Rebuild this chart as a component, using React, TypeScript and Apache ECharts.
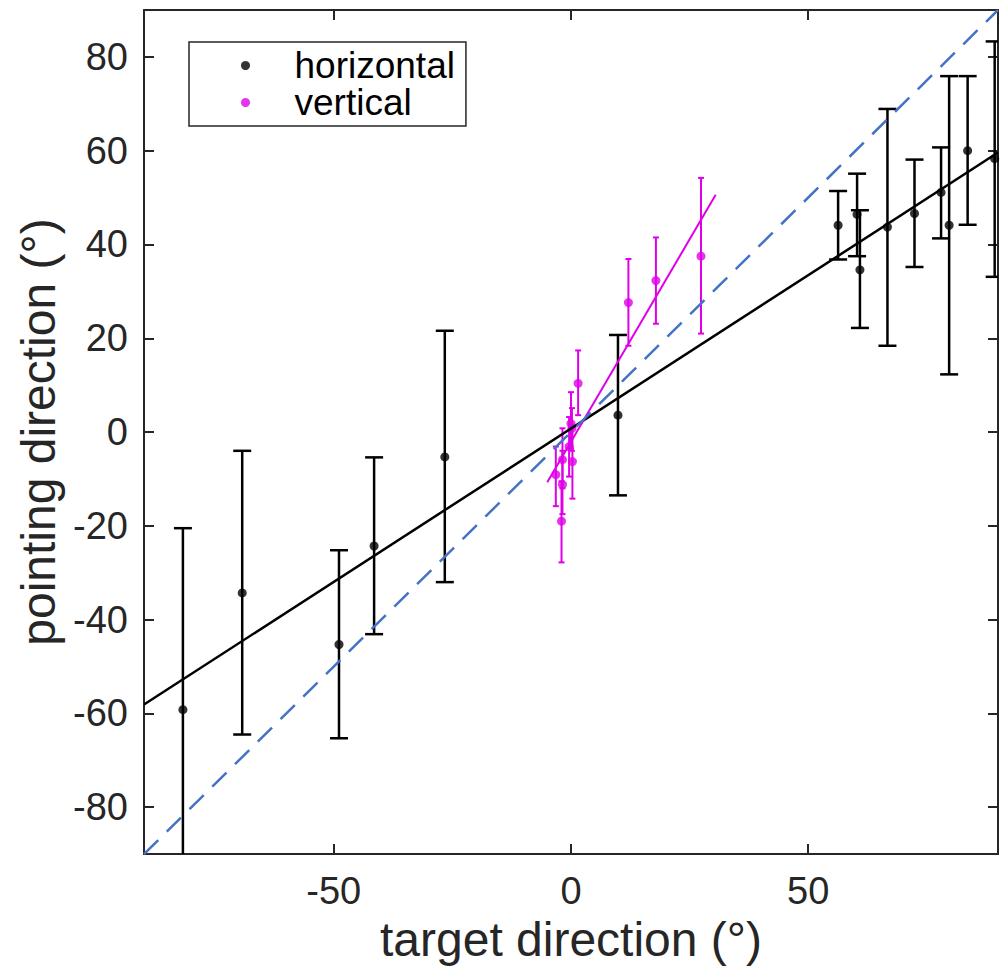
import React, { useEffect, useRef } from "react";
import * as echarts from "echarts";

// horizontal condition: target x, mean pointing y, error bar low / high
const H_X = [-81.8, -69.3, -48.9, -41.5, -26.6, 9.9, 56.3, 60.3, 60.9, 66.7, 72.4, 78.0, 79.7, 83.6, 89.3];
const H_Y = [-59.2, -34.3, -45.3, -24.3, -5.3, 3.6, 44.1, 46.4, 34.6, 43.7, 46.6, 51.1, 44.1, 60.0, 58.3];
const H_LO = [-100, -64.5, -65.3, -43.1, -32.0, -13.5, 36.8, 37.5, 22.2, 18.4, 35.2, 41.3, 12.3, 44.2, 33.1];
const H_HI = [-20.5, -4.0, -25.2, -5.4, 21.6, 20.7, 51.4, 55.1, 47.3, 68.9, 58.1, 60.7, 75.9, 75.9, 83.3];

// vertical condition
const V_X = [-3.2, -2.0, -1.8, -1.8, -0.4, 0.0, 0.3, 0.2, 1.5, 12.1, 17.9, 27.4];
const V_Y = [-9.1, -19.0, -11.2, -5.9, -3.1, 1.8, -6.3, 0.8, 10.4, 27.6, 32.3, 37.5];
const V_LO = [-15.8, -27.8, -17.5, -12.0, -9.5, -3.5, -14.2, -4.0, 3.6, 18.4, 23.1, 21.0];
const V_HI = [-3.1, -10.5, -4.0, 0.8, 3.2, 8.5, 1.0, 5.1, 17.4, 36.9, 41.5, 54.2];

// fit lines and identity line (end points)
const H_FIT_X = [-90, 90];
const H_FIT_Y = [-58.1, 59.6];
const V_FIT_X = [-5.0, 30.5];
const V_FIT_Y = [-10.7, 50.6];
const ID_X = [-90, 90];
const ID_Y = [-90, 90];

const X_TICKS = [-50, 0, 50];
const Y_TICKS = [-80, -60, -40, -20, 0, 20, 40, 60, 80];

const BLACK = "#000000";
const MAGENTA = "#e000e8";
const BLUE = "#4472c4";
const AXIS = "#262626";
const FONT = "'Liberation Sans', Arial, Helvetica, sans-serif";

const zip2 = (a: number[], b: number[]) => a.map((v, i) => [v, b[i]]);
const zip3 = (a: number[], b: number[], c: number[]) => a.map((v, i) => [v, b[i], c[i]]);

const errRender = (capHalf: number, color: string, width: number) => (params: any, api: any) => {
  const x = api.value(0);
  const lo = api.value(1);
  const hi = api.value(2);
  const pLo = api.coord([x, lo]);
  const pHi = api.coord([x, hi]);
  const style = { stroke: color, lineWidth: width, fill: "none" };
  return {
    type: "group",
    children: [
      { type: "line", shape: { x1: pLo[0], y1: pLo[1], x2: pHi[0], y2: pHi[1] }, style },
      { type: "line", shape: { x1: pLo[0] - capHalf, y1: pLo[1], x2: pLo[0] + capHalf, y2: pLo[1] }, style },
      { type: "line", shape: { x1: pHi[0] - capHalf, y1: pHi[1], x2: pHi[0] + capHalf, y2: pHi[1] }, style },
    ],
  };
};

export default function App() {
  const ref = useRef<HTMLDivElement>(null);
  useEffect(() => {
    if (!ref.current) return;
    const chart = echarts.init(ref.current, undefined, { renderer: "svg" });
    const axisCommon = {
      type: "value",
      min: -90,
      max: 90,
      splitLine: { show: false },
      axisLine: { show: true, onZero: false, lineStyle: { color: AXIS, width: 2 } },
    };
    chart.setOption({
      animation: false,
      backgroundColor: "#ffffff",
      grid: { left: 144, right: 7, top: 10, bottom: 106, containLabel: false },
      legend: {
        data: ["horizontal", "vertical"],
        orient: "vertical",
        left: 189,
        top: 42,
        icon: "circle",
        itemWidth: 88,
        itemHeight: 9,
        itemGap: 0,
        padding: [5, 11, 5, 52],
        borderColor: AXIS,
        borderWidth: 1.5,
        backgroundColor: "#ffffff",
        selectedMode: false,
        textStyle: { fontFamily: FONT, fontSize: 37, color: "#000", lineHeight: 37 },
      },
      xAxis: [
        {
          ...axisCommon,
          position: "bottom",
          name: "target direction (°)",
          nameLocation: "middle",
          nameGap: 55,
          nameTextStyle: { fontFamily: FONT, fontSize: 48, color: AXIS },
          axisTick: { show: true, inside: true, length: 10, lineStyle: { color: AXIS, width: 2 }, customValues: X_TICKS },
          axisLabel: { show: true, margin: 18, fontFamily: FONT, fontSize: 38, color: AXIS, customValues: X_TICKS },
        },
        {
          ...axisCommon,
          position: "top",
          axisTick: { show: true, inside: true, length: 10, lineStyle: { color: AXIS, width: 2 }, customValues: X_TICKS },
          axisLabel: { show: false },
        },
      ],
      yAxis: [
        {
          ...axisCommon,
          position: "left",
          name: "pointing direction (°)",
          nameLocation: "middle",
          nameGap: 80,
          nameRotate: 90,
          nameTextStyle: { fontFamily: FONT, fontSize: 48, color: AXIS },
          axisTick: { show: true, inside: true, length: 10, lineStyle: { color: AXIS, width: 2 }, customValues: Y_TICKS },
          axisLabel: { show: true, margin: 16, fontFamily: FONT, fontSize: 38, color: AXIS, customValues: Y_TICKS },
        },
        {
          ...axisCommon,
          position: "right",
          axisTick: { show: true, inside: true, length: 10, lineStyle: { color: AXIS, width: 2 }, customValues: Y_TICKS },
          axisLabel: { show: false },
        },
      ],
      series: [
        {
          type: "custom",
          name: "hErr",
          clip: true,
          renderItem: errRender(9, BLACK, 2.5),
          encode: { x: 0, y: [1, 2] },
          data: zip3(H_X, H_LO, H_HI),
          z: 2,
        },
        {
          type: "custom",
          name: "vErr",
          clip: true,
          renderItem: errRender(3, MAGENTA, 2),
          encode: { x: 0, y: [1, 2] },
          data: zip3(V_X, V_LO, V_HI),
          z: 2,
        },
        {
          type: "scatter",
          name: "horizontal",
          symbol: "circle",
          symbolSize: 9,
          itemStyle: { color: BLACK },
          data: zip2(H_X, H_Y),
          z: 3,
        },
        {
          type: "scatter",
          name: "vertical",
          symbol: "circle",
          symbolSize: 9,
          itemStyle: { color: MAGENTA },
          data: zip2(V_X, V_Y),
          z: 3,
        },
        {
          type: "line",
          name: "hFit",
          showSymbol: false,
          symbol: "none",
          lineStyle: { color: BLACK, width: 2.5 },
          data: zip2(H_FIT_X, H_FIT_Y),
          z: 4,
        },
        {
          type: "line",
          name: "vFit",
          showSymbol: false,
          symbol: "none",
          lineStyle: { color: MAGENTA, width: 2 },
          data: zip2(V_FIT_X, V_FIT_Y),
          z: 4,
        },
        {
          type: "line",
          name: "identity",
          showSymbol: false,
          symbol: "none",
          lineStyle: { color: BLUE, width: 2.5, type: [20, 12] },
          data: zip2(ID_X, ID_Y),
          z: 5,
        },
      ],
    });
    return () => chart.dispose();
  }, []);
  return (
    <div
      ref={ref}
      style={{ position: "fixed", left: 0, top: 0, width: 1005, height: 968, background: "#fff" }}
    />
  );
}
